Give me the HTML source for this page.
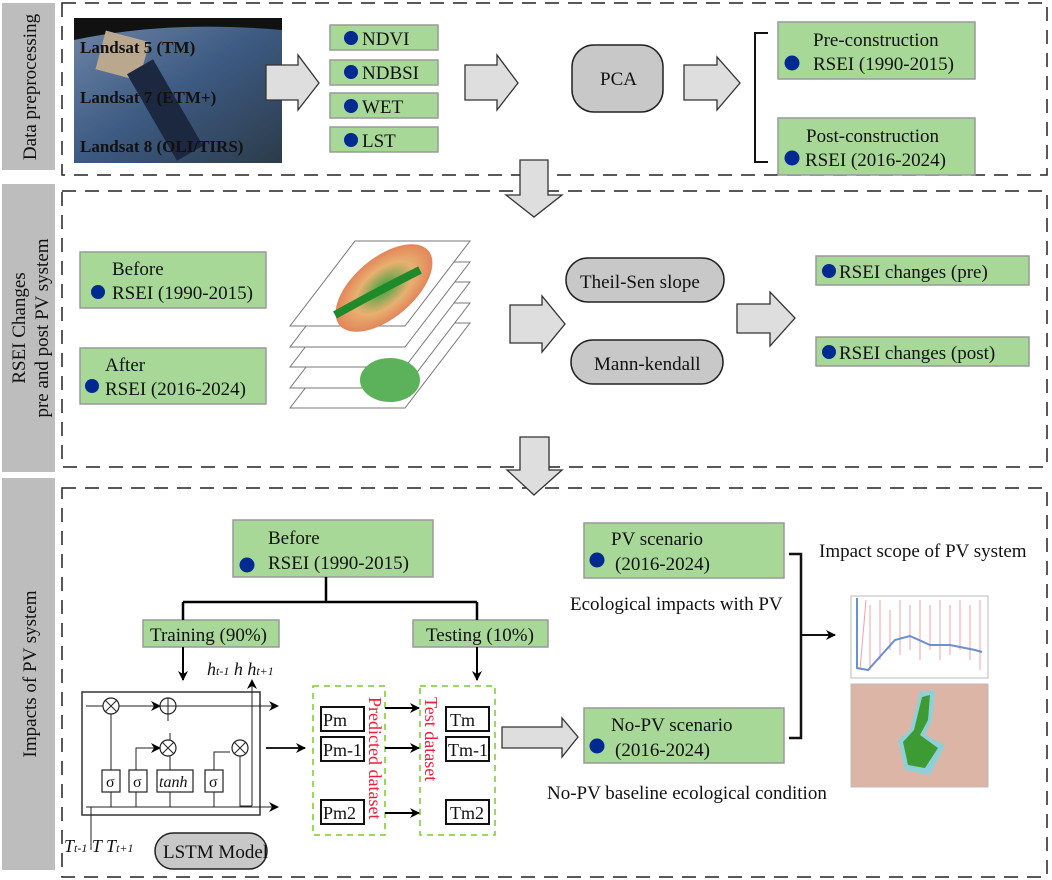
<!DOCTYPE html>
<html><head><meta charset="utf-8"><style>
html,body{margin:0;padding:0;background:#fff}
svg{display:block}
text{font-family:"Liberation Serif",serif;fill:#111}
</style></head><body>
<svg width="1052" height="880" viewBox="0 0 1052 880" xmlns="http://www.w3.org/2000/svg">
<defs>
<linearGradient id="sat" x1="0" y1="0" x2="1" y2="1">
<stop offset="0" stop-color="#6f87a8"/><stop offset="0.5" stop-color="#3d5a82"/><stop offset="1" stop-color="#2c3b4a"/></linearGradient>
<marker id="ah" markerWidth="10" markerHeight="10" refX="9" refY="5" orient="auto" markerUnits="userSpaceOnUse"><path d="M0,0 L10,5 L0,10 L3,5 Z" fill="#000"/></marker>
<radialGradient id="mapg" cx="0.5" cy="0.5" r="0.6"><stop offset="0" stop-color="#3aa040"/><stop offset="0.5" stop-color="#e8b070"/><stop offset="1" stop-color="#e07050"/></radialGradient>
</defs>
<g fill="#bdbdbd"><rect x="2" y="3" width="53" height="167"/><rect x="2" y="184" width="53" height="288"/><rect x="2" y="478" width="53" height="392"/></g>
<text transform="translate(36,87) rotate(-90)" font-size="19" text-anchor="middle">Data preprocessing</text>
<text transform="translate(25,328) rotate(-90)" font-size="19" text-anchor="middle">RSEI Changes</text>
<text transform="translate(48,328) rotate(-90)" font-size="19" text-anchor="middle">pre and post  PV system</text>
<text transform="translate(36,674) rotate(-90)" font-size="19" text-anchor="middle">Impacts of  PV system</text>
<g fill="none" stroke="#222" stroke-width="1.5" stroke-dasharray="14,9"><rect x="62" y="3" width="985" height="172"/><rect x="62" y="191" width="985" height="276"/><rect x="62" y="488" width="985" height="389"/></g>
<!-- satellite -->
<rect x="74" y="18" width="208" height="145" fill="url(#sat)"/>
<path d="M74,40 Q170,20 282,30 L282,18 L74,18Z" fill="#111"/>
<rect x="100" y="35" width="45" height="40" fill="#b9a88e" transform="rotate(15 120 55)"/>
<rect x="150" y="60" width="30" height="100" fill="#1c2740" transform="rotate(-30 165 110)"/>
<g font-size="17" font-weight="bold"><text x="80" y="53" fill="#2a1a10">Landsat 5 (TM)</text><text x="80" y="103" fill="#2a1a10">Landsat 7 (ETM+)</text><text x="80" y="152" fill="#2a1a10">Landsat 8 (OLI/TIRS)</text></g>
<!-- big arrows -->
<g fill="#dedede" stroke="#333" stroke-width="1.3">
<path d="M266,65 L298,65 L298,55 L319,83 L298,110 L298,100 L266,100Z"/>
<path d="M465,65 L497,65 L497,55 L518,83 L497,110 L497,100 L465,100Z"/>
<path d="M684,65 L717,65 L717,57 L740,83 L717,110 L717,100 L684,100Z"/>
<path d="M520,160 L548,160 L548,195 L562,195 L534,217 L506,195 L520,195Z"/>
<path d="M510,305 L542,305 L542,296 L565,324 L542,352 L542,343 L510,343Z"/>
<path d="M737,304 L770,304 L770,292 L795,318 L770,346 L770,333 L737,333Z"/>
<path d="M520,437 L549,437 L549,470 L562,470 L534,495 L507,470 L520,470Z"/>
<path d="M502,727 L562,727 L562,718 L578,737 L562,757 L562,748 L502,748Z"/>
</g>
<!-- green boxes -->
<g fill="#a8d898" stroke="#999" stroke-width="1.5">
<rect x="330" y="25" width="108" height="25"/><rect x="330" y="60" width="108" height="25"/><rect x="330" y="93" width="108" height="25"/><rect x="330" y="127" width="108" height="25"/>
<rect x="778" y="22" width="197" height="57"/><rect x="778" y="118" width="197" height="57"/>
<rect x="80" y="252" width="186" height="56"/><rect x="80" y="348" width="186" height="56"/>
<rect x="816" y="256" width="213" height="29"/><rect x="816" y="337" width="213" height="29"/>
<rect x="233" y="520" width="200" height="57"/>
<rect x="143" y="620" width="136" height="27"/><rect x="413" y="620" width="135" height="27"/>
<rect x="584" y="523" width="200" height="55"/><rect x="584" y="708" width="200" height="55"/>
</g>
<g fill="#002a8f">
<circle cx="351" cy="38" r="7"/><circle cx="351" cy="72" r="7"/><circle cx="351" cy="106" r="7"/><circle cx="351" cy="140" r="7"/>
<circle cx="792" cy="63" r="7.5"/><circle cx="792" cy="158" r="7.5"/>
<circle cx="98" cy="292" r="7"/><circle cx="92" cy="386" r="7"/>
<circle cx="829" cy="271" r="7"/><circle cx="829" cy="352" r="7"/>
<circle cx="247" cy="565" r="7.5"/><circle cx="597" cy="560" r="7.5"/><circle cx="597" cy="746" r="7.5"/>
</g>
<g font-size="19">
<text x="362" y="45">NDVI</text><text x="362" y="79">NDBSI</text><text x="362" y="113">WET</text><text x="362" y="147">LST</text>
<text x="813" y="46">Pre-construction</text><text x="813" y="70">RSEI (1990-2015)</text>
<text x="806" y="142">Post-construction</text><text x="805" y="166">RSEI (2016-2024)</text>
<text x="112" y="275">Before</text><text x="112" y="299">RSEI (1990-2015)</text>
<text x="105" y="371">After</text><text x="105" y="395">RSEI (2016-2024)</text>
<text x="839" y="278">RSEI changes (pre)</text><text x="839" y="359">RSEI changes (post)</text>
<text x="268" y="544">Before</text><text x="268" y="569">RSEI (1990-2015)</text>
<text x="150" y="641">Training (90%)</text><text x="426" y="641">Testing (10%)</text>
<text x="611" y="545">PV scenario</text><text x="615" y="570">(2016-2024)</text>
<text x="611" y="731">No-PV scenario</text><text x="615" y="756">(2016-2024)</text>
<text x="570" y="610">Ecological impacts with PV</text>
<text x="819" y="557">Impact scope of PV system</text>
<text x="547" y="799">No-PV baseline ecological condition</text>
</g>
<!-- PCA & rounded -->
<g fill="#c8c8c8" stroke="#222" stroke-width="1.5">
<rect x="572" y="45" width="91" height="67" rx="22"/>
<rect x="566" y="258" width="158" height="44" rx="22"/>
<rect x="571" y="340" width="152" height="44" rx="22"/>
<rect x="155" y="833" width="112" height="36" rx="18"/>
</g>
<g font-size="19"><text x="600" y="85">PCA</text><text x="580" y="288">Theil-Sen slope</text><text x="594" y="370">Mann-kendall</text><text x="163" y="858" font-size="19">LSTM Model</text></g>
<!-- bracket top -->
<path d="M768,33 L755,33 L755,162 L768,162" fill="none" stroke="#111" stroke-width="2"/>
<!-- map stack -->
<g stroke="#777" stroke-width="1" fill="#fff">
<path d="M290,408 L405,408 L470,323 L355,323Z"/>
<path d="M290,388 L405,388 L470,303 L355,303Z"/>
<path d="M290,367 L405,367 L470,282 L355,282Z"/>
<path d="M290,347 L405,347 L470,262 L355,262Z"/>
</g>
<ellipse cx="390" cy="380" rx="30" ry="22" fill="#5cb25a"/>
<path d="M290,326 L405,326 L470,241 L355,241Z" fill="#fff" stroke="#777"/>
<ellipse cx="384" cy="288" rx="58" ry="30" transform="rotate(-40 384 288)" fill="url(#mapg)"/>
<path d="M335,315 Q380,290 420,270" stroke="#1f8a2a" stroke-width="8" fill="none"/>
<!-- tree -->
<g stroke="#000" stroke-width="2.5" fill="none"><path d="M326,577 V602 M183,602 H477 M183,602 V620 M477,602 V620"/></g>
<g stroke="#000" stroke-width="2" fill="none" marker-end="url(#ah)"><path d="M183,647 V680"/><path d="M477,647 V680"/></g>
<!-- LSTM -->
<rect x="82" y="692" width="178" height="123" fill="none" stroke="#333" stroke-width="1.5"/>
<g stroke="#222" stroke-width="1" fill="none">
<path d="M86,706 H103" /><path d="M117,706 H160" marker-end="url(#ah)"/><path d="M176,706 H278" marker-end="url(#ah)"/>
<path d="M86,807 H278" marker-end="url(#ah)"/>
<path d="M111,807 V714"/><path d="M136,807 V748 H160" marker-end="url(#ah)"/><path d="M170,807 V733 M168,721 V714"/>
<path d="M214,807 V752 H230"/><path d="M240,756 V806 H252"/><path d="M252,806 V680" marker-end="url(#ah)"/>
<path d="M91,807 V850"/><path d="M266,748 H305" stroke-width="2" marker-end="url(#ah)"/>
</g>
<g fill="#fff" stroke="#222" stroke-width="1.2">
<circle cx="111" cy="706" r="8"/><circle cx="168" cy="706" r="8"/><circle cx="168" cy="748" r="8"/><circle cx="240" cy="748" r="8"/>
<rect x="102" y="770" width="18" height="22"/><rect x="129" y="770" width="18" height="22"/><rect x="157" y="770" width="36" height="22"/><rect x="205" y="770" width="18" height="22"/>
</g>
<g stroke="#222" stroke-width="1"><path d="M105,700 L117,712 M117,700 L105,712 M160,706 H176 M168,698 V714 M162,742 L174,754 M174,742 L162,754 M234,742 L246,754 M246,742 L234,754"/></g>
<g font-size="16"><text x="106" y="787">σ</text><text x="133" y="787">σ</text><text x="209" y="787">σ</text><text x="159" y="787" font-style="italic">tanh</text>
<text x="207" y="675" font-style="italic" font-size="18">h<tspan font-size="12">t-1</tspan> h  h<tspan font-size="12">t+1</tspan></text>
<text x="64" y="852" font-style="italic" font-size="18">T<tspan font-size="12">t-1</tspan> T  T<tspan font-size="12">t+1</tspan></text></g>
<!-- datasets -->
<g fill="none" stroke="#7acb2a" stroke-width="1.5" stroke-dasharray="6,5"><rect x="313" y="686" width="72" height="149"/><rect x="420" y="686" width="75" height="149"/></g>
<g fill="#fff" stroke="#111" stroke-width="2"><rect x="321" y="707" width="43" height="24"/><rect x="321" y="737" width="43" height="24"/><rect x="321" y="800" width="43" height="24"/><rect x="446" y="707" width="43" height="24"/><rect x="446" y="737" width="43" height="24"/><rect x="446" y="800" width="43" height="24"/></g>
<g font-size="18"><text x="323" y="726">Pm</text><text x="323" y="756">Pm-1</text><text x="323" y="819">Pm2</text><text x="450" y="726">Tm</text><text x="448" y="756">Tm-1</text><text x="450" y="819">Tm2</text></g>
<text transform="translate(369,697) rotate(90)" font-size="18" style="fill:#e8203a">Predicted dataset</text>
<text transform="translate(425,697) rotate(90)" font-size="18" style="fill:#e8203a">Test dataset</text>
<g stroke="#000" stroke-width="2" marker-end="url(#ah)"><path d="M385,708 H419"/><path d="M385,748 H419"/><path d="M385,813 H419"/></g>
<!-- right bracket -->
<path d="M789,554 H801 V738 H789" fill="none" stroke="#111" stroke-width="2.5"/>
<path d="M801,635 H835" stroke="#111" stroke-width="2" marker-end="url(#ah)"/>
<rect x="851" y="596" width="137" height="82" fill="#fff" stroke="#bbb"/>
<path d="M860,670 L866,600 M870,605 V670 M880,600 V660 M890,610 V650 M900,600 V655 M910,605 V650 M920,600 V660 M930,605 V650 M940,600 V660 M950,605 V655 M960,600 V650 M970,605 V660 M980,600 V670" stroke="#f3a0a8" stroke-width="1"/>
<path d="M857,598 V668 L868,670 L895,640 L910,636 L930,645 L950,645 L975,650 L982,652" stroke="#6b8fcf" stroke-width="2" fill="none"/>
<rect x="851" y="684" width="137" height="103" fill="#ddb5a6" stroke="#bbb"/>
<path d="M920,692 L935,690 L932,720 L925,735 L945,745 L930,775 L905,770 L898,740 L910,730Z" fill="#8fd0d8"/>
<path d="M922,697 L930,695 L928,720 L920,735 L938,748 L925,768 L908,765 L903,742 L914,730Z" fill="#3e9b33"/>
</svg>
</body></html>
